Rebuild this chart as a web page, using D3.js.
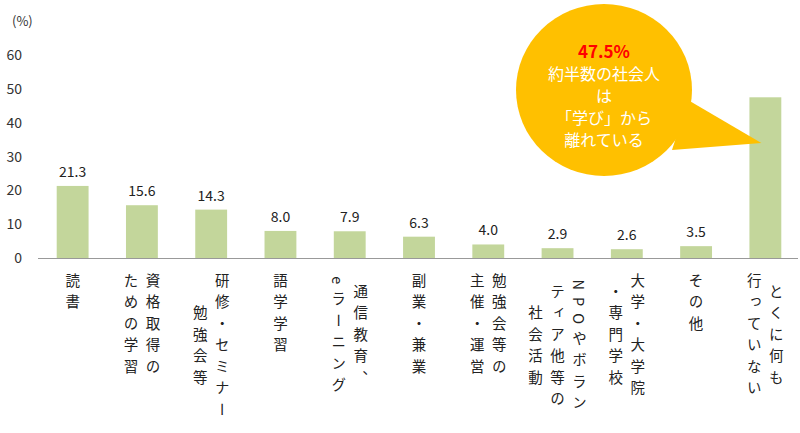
<!DOCTYPE html>
<html><head><meta charset="utf-8">
<script src="https://cdn.jsdelivr.net/npm/d3@7"></script>
<style>body{margin:0;background:#fff}text{font-family:"Noto Sans CJK JP",sans-serif}</style>
</head><body><svg id="c" width="800" height="433"></svg>
<script>
const categories = [["読書"],["資格取得の","ための学習"],["研修・セミナー","勉強会等"],["語学学習"],["通信教育、","eラーニング"],["副業・兼業"],["勉強会等の","主催・運営"],["NPOやボラン","ティア他等の","社会活動"],["大学・大学院","・専門学校"],["その他"],["とくに何も","行っていない"]];
const values = [21.3,15.6,14.3,8.0,7.9,6.3,4.0,2.9,2.6,3.5,47.5];
const yTicks = [0,10,20,30,40,50,60];
const calloutLines = ["約半数の社会人","は","「学び」から","離れている"];

const svg = d3.select("#c");
const x = d3.scaleBand().domain(d3.range(values.length)).range([38,800]).paddingInner(0.54).paddingOuter(0.27);
const y = d3.scaleLinear().domain([0,60]).range([258,55]);

svg.append("g").selectAll("text").data(yTicks).join("text")
  .attr("x",22).attr("y",d=>y(d)+5).attr("text-anchor","end")
  .attr("font-size",14).attr("fill","#333").text(d=>d);
svg.append("text").attr("x",12).attr("y",26).attr("font-size",13).attr("fill","#333").text("(%)");
svg.append("line").attr("x1",38).attr("x2",798).attr("y1",y(0)+0.5).attr("y2",y(0)+0.5).attr("stroke","#999");

svg.append("g").selectAll("rect").data(values).join("rect")
  .attr("x",(d,i)=>x(i)).attr("width",x.bandwidth()).attr("y",d=>y(d)).attr("height",d=>y(0)-y(d))
  .attr("fill","#c3d69b");
svg.append("g").selectAll("text").data(values.slice(0,10)).join("text")
  .attr("x",(d,i)=>x(i)+x.bandwidth()/2).attr("y",d=>y(d)-9).attr("text-anchor","middle")
  .attr("font-size",14).attr("fill","#222").text(d=>d.toFixed(1));

const pitch = 21.5, colGap = 22;
categories.forEach((cols,i)=>{
  const cx = x(i)+x.bandwidth()/2;
  const maxLen = d3.max(cols,c=>c.length);
  const cy = 273 + maxLen*pitch/2;
  cols.forEach((c,j)=>{
    const xx = cx + ((cols.length-1)/2 - j)*colGap;
    svg.append("text").attr("x",xx).attr("y",cy)
      .attr("text-anchor","middle").attr("font-size",14.5).attr("fill","#222")
      .style("writing-mode","vertical-rl").style("letter-spacing","7px").text(c);
  });
});

// callout
const g = svg.append("g");
const tip = [x(10)+x.bandwidth()/2-4, 143];
g.append("path").attr("d",`M688,100 L${tip[0]},${tip[1]} L672,150 Z`).attr("fill","#ffc000");
g.append("ellipse").attr("cx",604).attr("cy",90).attr("rx",88).attr("ry",86).attr("fill","#ffc000");
g.append("text").attr("x",604).attr("y",58).attr("text-anchor","middle").attr("font-size",17).attr("font-weight","bold").attr("fill","#ff0000").text(values[10].toFixed(1)+"%");
g.selectAll("text.l").data(calloutLines).join("text").attr("class","l")
  .attr("x",604).attr("y",(d,i)=>80+i*22).attr("text-anchor","middle").attr("font-size",16).attr("fill","#fff").text(d=>d);
</script></body></html>
